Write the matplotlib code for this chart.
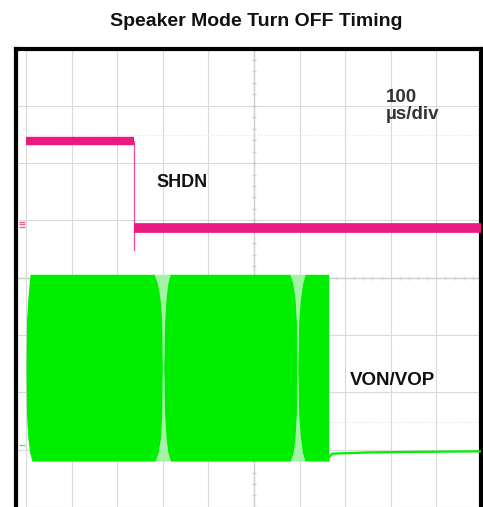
import numpy as np
from matplotlib import pyplot as plt

# scope screen, in divisions (x: 100 us/div, y: 8 divisions)
shdn_high_t = [0.0, 2.36]
shdn_high_v = 6.38
shdn_low_t = [2.37, 9.98]
shdn_low_v = 4.87
shdn_edge_t = 2.36
shdn_edge_bottom = 4.48

# burst envelope: y levels and left/right edge of each lobe
lobe_y = [0.80, 0.95, 1.20, 1.60, 2.43, 3.25, 3.65, 3.91, 4.06]
lobe1_left = [0.13, 0.08, 0.04, 0.01, 0.00, 0.01, 0.04, 0.07, 0.09]
lobe1_right = [2.83, 2.90, 2.95, 2.98, 2.99, 2.98, 2.94, 2.88, 2.81]
lobe2_left = [3.17, 3.11, 3.07, 3.04, 3.02, 3.04, 3.07, 3.11, 3.16]
lobe2_right = [5.80, 5.86, 5.90, 5.93, 5.94, 5.93, 5.90, 5.85, 5.79]
lobe3_left = [6.12, 6.06, 6.02, 5.98, 5.96, 5.98, 6.02, 6.07, 6.12]
lobe3_right = [6.65, 6.64, 6.64, 6.64, 6.64, 6.64, 6.64, 6.64, 6.64]

# output after shutdown
tail_t = [6.64, 6.72, 7.5, 8.5, 9.98]
tail_v = [0.86, 0.93, 0.95, 0.96, 0.97]

ch1_marker = 4.93
ch2_marker = 1.08

pink = '#ea1a80'
green = '#00ee00'
light_green = '#a6f2a6'

plt.rcParams['font.family'] = ['Liberation Sans', 'DejaVu Sans']

fig = plt.figure(figsize=(4.83, 5.07), dpi=100)
fig.patch.set_facecolor('white')
ax = fig.add_axes([16 / 483, 0, (481 - 16) / 483, (507 - 48.5) / 507])
ax.set_xlim(-0.22, 9.98)
ax.set_ylim(8 - (507 - 48.5) / 57.3, 8)

# graticule
for gx in range(0, 10):
    ax.axvline(gx, color='#dadada', lw=0.8, zorder=0)
for gy in range(0, 8):
    ax.axhline(gy, color='#dadada', lw=0.8, zorder=0)
ax.axvline(5, color='#cccccc', lw=0.9, zorder=0)
ax.axhline(4, color='#cccccc', lw=0.9, zorder=0)
minor = np.arange(0, 8.01, 0.2)
ax.plot(np.full(minor.size, 5), minor, ls='none', marker='_', ms=3, color='#d0d0d0', zorder=0)
minor_x = np.arange(0, 10.01, 0.2)
ax.plot(minor_x, np.full(minor_x.size, 4), ls='none', marker='|', ms=3, color='#d8d8d8', zorder=0)
ax.axhline(6.49, color='#e6e6e6', lw=0.8, ls=':', zorder=0)
ax.axhline(1.49, color='#e6e6e6', lw=0.8, ls=':', zorder=0)

# SHDN trace
ax.plot(shdn_high_t, [shdn_high_v] * 2, color=pink, lw=6, solid_capstyle='butt', zorder=3)
ax.plot(shdn_low_t, [shdn_low_v] * 2, color=pink, lw=7, solid_capstyle='butt', zorder=3)
ax.plot([shdn_edge_t, shdn_edge_t], [shdn_high_v, shdn_edge_bottom], color=pink, lw=0.9, alpha=0.8, zorder=3)

# VON/VOP burst
ax.fill_betweenx(lobe_y, lobe1_right, lobe2_left, color=light_green, lw=0, zorder=2)
ax.fill_betweenx(lobe_y, lobe2_right, lobe3_left, color=light_green, lw=0, zorder=2)
for left, right in [(lobe1_left, lobe1_right), (lobe2_left, lobe2_right), (lobe3_left, lobe3_right)]:
    ax.fill_betweenx(lobe_y, left, right, color=green, lw=0, zorder=3)
ax.plot(tail_t, tail_v, color=green, lw=1.6, zorder=3)

# channel markers
for dy in (-0.05, 0.0, 0.05):
    ax.plot([-0.09], [ch1_marker + dy], marker='_', ms=5, mew=1, color=pink, alpha=0.7)
ax.plot([-0.09], [ch2_marker], marker='_', ms=5, mew=1, color=green, alpha=0.7)

ax.text(2.87, 5.58, 'SHDN', fontsize=13, fontweight='bold', color='#111111')
ax.text(7.11, 2.13, 'VON/VOP', fontsize=13.5, fontweight='bold', color='#111111')
ax.text(7.89, 7.07, '100', fontsize=13.5, fontweight='bold', color='#333333')
ax.text(7.89, 6.77, 'µs/div', fontsize=13.5, fontweight='bold', color='#333333')

ax.set_xticks([])
ax.set_yticks([])
for side in ['left', 'top', 'right']:
    ax.spines[side].set_linewidth(3)
    ax.spines[side].set_color('black')
ax.spines['bottom'].set_visible(False)

fig.text(256 / 483, 1 - 26 / 507, 'Speaker Mode Turn OFF Timing', ha='center', va='baseline',
         fontsize=14, fontweight='bold', color='#111111')

fig.savefig('out.png', dpi=100)
